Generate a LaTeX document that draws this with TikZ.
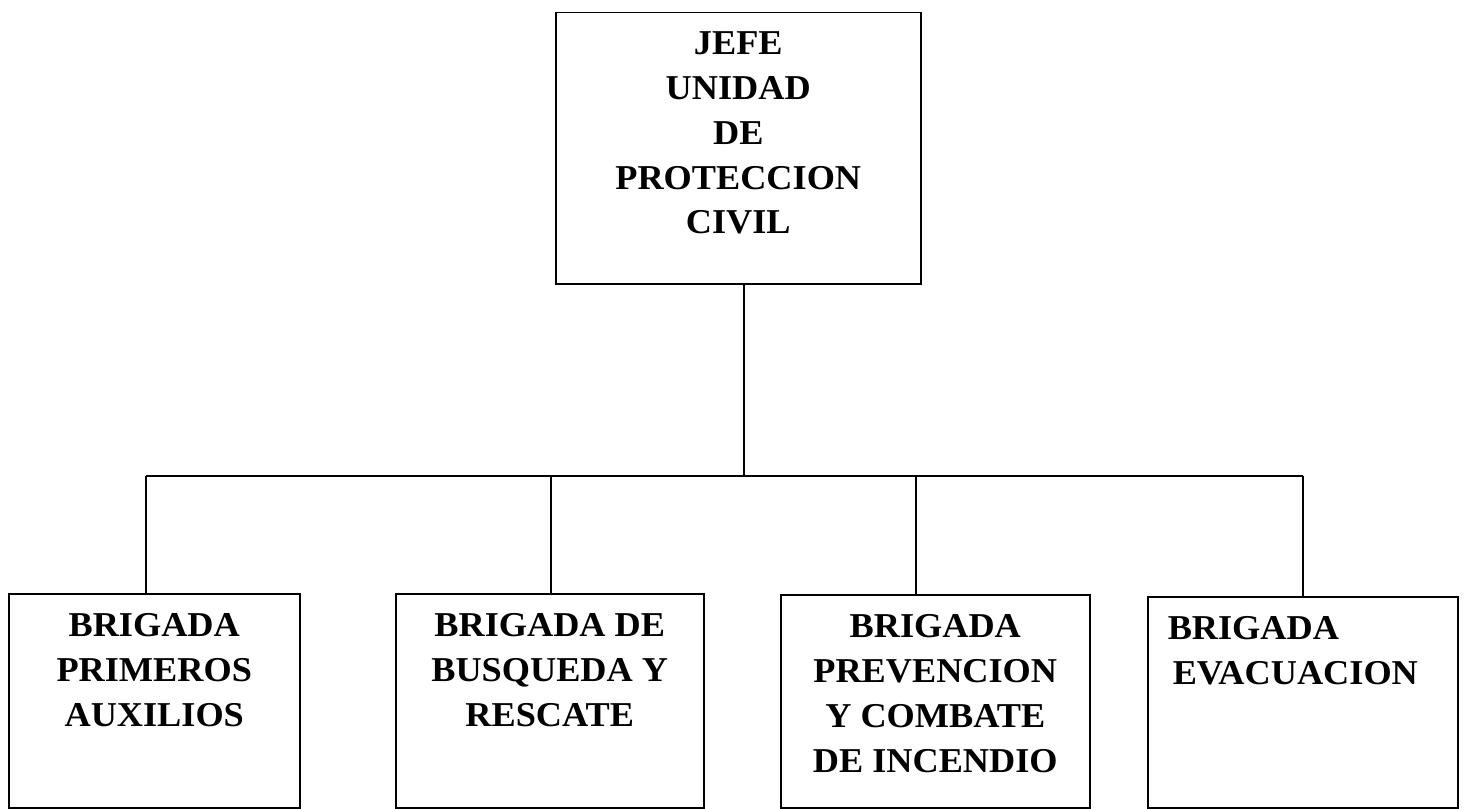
\documentclass[tikz,border=0pt]{standalone}
\usepackage{fontspec}
\setmainfont{Liberation Serif}[FakeStretch=1.04]
\usetikzlibrary{calc}

\tikzset{
  caja/.style={draw, line width=1.5bp, inner sep=0pt, anchor=north west,
    font=\bfseries\fontsize{35}{45}\selectfont},
  linea/.style={line width=1.5bp}
}
% caja de ancho #1 y alto #2, texto arriba
\newcommand{\contenido}[3]{\parbox[c][#2][t]{#1}{\centering\vspace*{20bp}#3}}

\begin{document}
\begin{tikzpicture}[x=1bp, y=-1bp]
  \useasboundingbox (0,0) rectangle (1464,808);

  \node[caja] (jefe) at (555,12)
    {\parbox[c][271bp][t]{365bp}{\centering\vspace*{19bp}JEFE\\UNIDAD\\DE\\PROTECCION\\CIVIL}};

  \node[caja] (primeros) at (8,593) {\contenido{291bp}{214bp}{BRIGADA\\PRIMEROS\\AUXILIOS}};
  \node[caja] (rescate) at (395,593) {\contenido{308bp}{214bp}{BRIGADA DE\\BUSQUEDA Y\\RESCATE}};
  \node[caja] (incendio) at (780,594) {\contenido{309bp}{213bp}{BRIGADA\\PREVENCION\\Y COMBATE\\DE INCENDIO}};
  \node[caja] (evacuacion) at (1147,596) {\parbox[c][211bp][t]{310bp}{\raggedright\vspace*{20bp}%
    \hspace*{20bp}BRIGADA\\\hspace*{25bp}EVACUACION}};

  % barra horizontal
  \coordinate (bus) at (744,476);
  \coordinate (izq) at (146,476);
  \coordinate (der) at (1303,476);
  \draw[linea] (izq) -- (der);
  \draw[linea] (jefe.south -| bus) -- (bus);

  % bajadas
  \draw[linea] (izq) -- (izq |- primeros.north);
  \draw[linea] (551,476) -- (551,0 |- rescate.north);
  \draw[linea] (916,476) -- (916,0 |- incendio.north);
  \draw[linea] (der) -- (der |- evacuacion.north);
\end{tikzpicture}
\end{document}
